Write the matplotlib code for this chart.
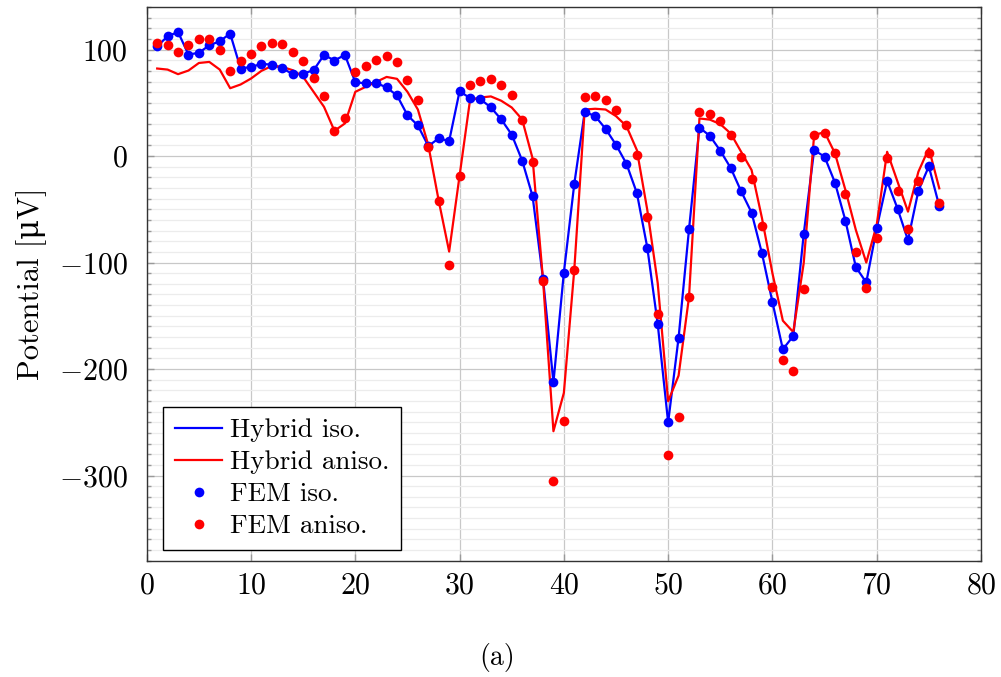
import numpy as np
import matplotlib
matplotlib.use("Agg")
import matplotlib.pyplot as plt
from matplotlib.ticker import MultipleLocator

plt.rcParams['font.family'] = ['cmr10', 'DejaVu Serif']
plt.rcParams['mathtext.fontset'] = 'cm'
plt.rcParams['axes.formatter.use_mathtext'] = True

x = list(range(1, 77))

hybrid_iso = [103, 112.5, 116.5, 95.3, 97, 104, 107.8, 115, 82.2, 83.7,
              86.5, 85.9, 82.5, 76.9, 77.5, 80.6, 95, 89.7, 95, 69.4,
              68.2, 68.7, 64.4, 56.9, 38.4, 28.7, 9.4, 16.6, 14.1, 60.9,
              54.4, 53.4, 45.6, 34.4, 20.1, -4.2, -37.7, -115, -212.6, -109.4,
              -26.1, 41.5, 37.5, 25.6, 10.6, -7.2, -34.7, -85.9, -157.8, -250.2,
              -170.7, -68.8, 26.7, 19, 5, -11.2, -33.1, -53.1, -91.5, -137.1,
              -181.5, -169, -73.4, 5.6, -0.6, -25, -60.6, -104.3, -118.7, -67.8,
              -23.4, -49.4, -79, -32.5, -9.7, -46.9]
fem_iso = list(hybrid_iso)

hybrid_aniso = [82.2, 81.2, 76.9, 80.3, 87.4, 88.4, 81.2, 63.7, 67.2, 72.8,
                80, 84.6, 83.7, 80.6, 74.3, 60.3, 46.2, 23.7, 30.6, 60.3,
                65, 69.6, 74.3, 72.5, 60.3, 43.7, 10.3, -42, -89.7, -18.4,
                52.5, 55, 56, 51.9, 45.6, 34.4, -2.2, -116, -258.4, -222.4,
                -106.6, 43.7, 44.4, 43.7, 37.5, 28.1, 5.6, -50.6, -119.3, -230.3,
                -206.2, -132.5, 35.3, 34.2, 30, 21.2, 4, -13.1, -58.4, -110,
                -154.6, -165.3, -100.6, 19.7, 22.5, 2.5, -31.9, -69.4, -100, -64.7,
                4, -24.1, -52.2, -14.7, 7.2, -30.3]

fem_aniso = [106.5, 104.7, 97.8, 104, 110.3, 110.3, 100, 80, 89.3, 95.6,
             103.7, 106.2, 105, 98.1, 89.3, 73.4, 56.5, 23.7, 35.9, 79.2,
             84.6, 90.6, 93.7, 88.4, 71.2, 52.8, 8.7, -42.2, -101.9, -18.4,
             66.5, 70.9, 71.9, 66.5, 57.5, 33.4, -6, -117.5, -304.7, -248.7,
             -106.6, 55.6, 56.2, 52.8, 43.7, 29.4, 1.3, -57.2, -148, -280.9,
             -244.6, -132.5, 41, 39.8, 32.8, 20, -0.6, -21.3, -65.9, -123.4,
             -191.2, -202.1, -124.9, 19.7, 21.9, 2.5, -35.6, -89.7, -124, -77.1,
             -2.2, -32.8, -68.1, -23.4, 3.1, -43.7]

fig = plt.figure(figsize=(10.01, 6.77), dpi=100)
ax = fig.add_axes([0.1466, 0.1718, 0.980 - 0.1466, 0.9897 - 0.1718])

ax.plot(x, hybrid_iso, color='#0000ff', lw=1.6, label='Hybrid iso.', zorder=3)
ax.plot(x, hybrid_aniso, color='#ff0000', lw=1.6, label='Hybrid aniso.', zorder=3)
ax.plot(x, fem_iso, 'o', color='#0000ff', ms=7, mec='none', label='FEM iso.', zorder=4)
ax.plot(x, fem_aniso, 'o', color='#ff0000', ms=7, mec='none', label='FEM aniso.', zorder=4)

ax.set_xlim(0, 80)
ax.set_ylim(-380, 140)
ax.xaxis.set_major_locator(MultipleLocator(10))
ax.yaxis.set_major_locator(MultipleLocator(100))
ax.yaxis.set_minor_locator(MultipleLocator(10))

ax.grid(True, which='major', color='#c8c8c8', lw=0.9, zorder=0)
ax.grid(True, which='minor', axis='y', color='#ececec', lw=0.9, zorder=0)
ax.set_axisbelow(True)

ax.tick_params(which='both', direction='in', top=True, right=True,
               labelsize=21.5, color='#999999')
ax.tick_params(which='major', length=5, width=1)
ax.tick_params(which='minor', length=3, width=1)
ax.tick_params(axis='x', pad=8)
ax.tick_params(axis='y', pad=14)
for s in ax.spines.values():
    s.set_linewidth(1.0)
    s.set_color('#333333')

ax.set_ylabel('Potential [\u03bcV]', fontsize=22)
ax.yaxis.set_label_coords(-0.12, 0.5)

leg = ax.legend(loc='lower left', bbox_to_anchor=(0.02, 0.02), borderaxespad=0,
                fontsize=19.5, frameon=True, fancybox=False, edgecolor='black',
                handlelength=1.75, labelspacing=0.3, borderpad=0.42, handletextpad=0.3)
leg.get_frame().set_linewidth(1.0)
leg.get_frame().set_alpha(1)

fig.text(0.497, 1 - 658 / 677, '(a)', ha='center', va='center', fontsize=20)

fig.savefig('out.png', dpi=100)
